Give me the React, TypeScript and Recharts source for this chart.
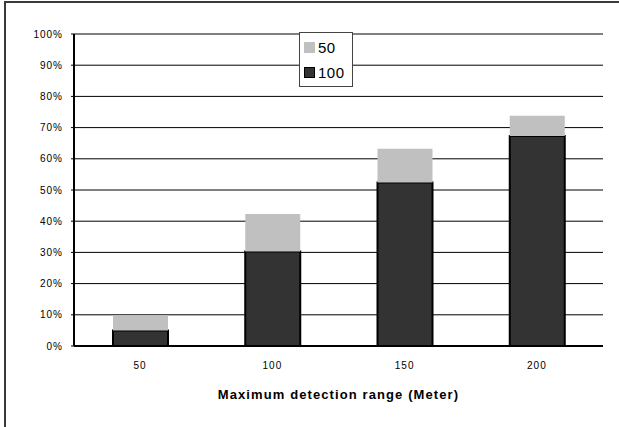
import { BarChart, Bar, XAxis, YAxis, CartesianGrid, Legend, ReferenceLine, Label } from 'recharts'

// detection range categories (meter)
const ranges = ['50', '100', '150', '200']
// share reached with the 100 setting (bottom, dark)
const series100 = [5, 30.3, 52.4, 67.3]
// extra share reached with the 50 setting (top, light grey)
const series50 = [4.8, 12, 10.8, 6.5]
const yTicks = [0, 10, 20, 30, 40, 50, 60, 70, 80, 90, 100]
const edgeTicks = [0, 1, 2, 3, 4]

const data = ranges.map((r, i) => ({ range: r, s100: series100[i], s50: series50[i] }))

const font = '"Liberation Sans", Arial, sans-serif'

const LegendBox = ({ payload }: any) => {
  const items = [...(payload || [])].reverse()
  return (
    <div
      style={{
        border: '1px solid #444',
        background: '#fff',
        width: 54,
        height: 55,
        boxSizing: 'border-box',
        padding: '2px 0 0 4px',
        fontFamily: font,
        fontSize: 15,
      }}
    >
      {items.map((entry: any, i: number) => (
        <div key={`lg-${i}`} style={{ display: 'flex', alignItems: 'center', height: 25 }}>
          <div
            style={{
              width: 9,
              height: 9,
              background: entry.color,
              border: entry.value === '100' ? '1px solid #000' : '1px solid #c0c0c0',
              marginRight: 3,
            }}
          />
          <span style={{ letterSpacing: 0.5 }}>{entry.value}</span>
        </div>
      ))}
    </div>
  )
}

export default function App() {
  return (
    <div style={{ position: 'absolute', left: 0, top: 0, width: 619, height: 427, background: '#fff' }}>
      <BarChart
        width={619}
        height={427}
        data={data}
        margin={{ top: 34, right: 16, left: 0, bottom: 25 }}
        style={{ position: 'absolute', left: 0, top: 0 }}
      >
        <XAxis
          xAxisId="edges"
          type="number"
          domain={[0, 4]}
          ticks={edgeTicks}
          height={0}
          axisLine={false}
          tickLine={{ stroke: '#000', strokeWidth: 1 }}
          tickSize={4}
          tickFormatter={() => ''}
        />
        <XAxis
          xAxisId="cat"
          dataKey="range"
          height={56}
          axisLine={{ stroke: '#000', strokeWidth: 2 }}
          tickLine={false}
          tickSize={0}
          tickMargin={16}
          tick={{ fill: '#000', fontSize: 10, fontFamily: font, letterSpacing: 1 }}
        >
          <Label
            value="Maximum detection range (Meter)"
            position="insideBottom"
            offset={3}
            style={{ fill: '#000', fontSize: 13, fontWeight: 'bold', fontFamily: font, letterSpacing: 1.1 }}
          />
        </XAxis>
        <YAxis
          width={74}
          domain={[0, 100]}
          ticks={yTicks}
          interval={0}
          tickFormatter={(v) => `${v}%`}
          axisLine={{ stroke: '#000', strokeWidth: 2 }}
          tickLine={{ stroke: '#000' }}
          tickSize={3}
          tickMargin={8}
          tick={{ fill: '#000', fontSize: 10, fontFamily: font, letterSpacing: 1 }}
        />
        <CartesianGrid xAxisId="cat" vertical={false} stroke="#000" strokeWidth={1} />
        <ReferenceLine y={100} xAxisId="cat" stroke="#808080" strokeWidth={2} />
        <ReferenceLine x={4} xAxisId="edges" stroke="#808080" strokeWidth={2} />
        <Legend
          layout="vertical"
          verticalAlign="middle"
          align="center"
          content={<LegendBox />}
          wrapperStyle={{ position: 'absolute', left: 299, top: 32, width: 'auto' }}
        />
        <Bar
          xAxisId="cat"
          dataKey="s100"
          name="100"
          stackId="a"
          barSize={55}
          fill="#333333"
          stroke="#000"
          strokeWidth={2}
          isAnimationActive={false}
        />
        <Bar
          xAxisId="cat"
          dataKey="s50"
          name="50"
          stackId="a"
          barSize={55}
          fill="#c0c0c0"
          isAnimationActive={false}
        />
      </BarChart>
      {/* outer chart frame (only left and top edges visible) */}
      <div
        style={{
          position: 'absolute',
          left: 4,
          top: 1,
          width: 615,
          height: 426,
          borderLeft: '2px solid #3a3a3a',
          borderTop: '2px solid #3a3a3a',
          boxSizing: 'border-box',
          pointerEvents: 'none',
        }}
      />
    </div>
  )
}
